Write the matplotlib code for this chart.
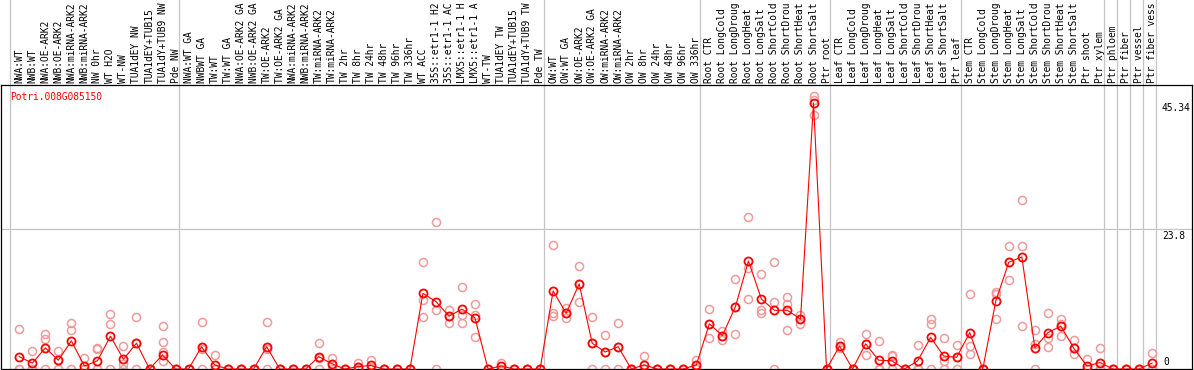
import matplotlib
matplotlib.use("Agg")
import matplotlib.pyplot as plt
import matplotlib.transforms as mtransforms

gene = "Potri.008G085150"

labels = [
    "NWA:WT", "NWB:WT", "NWA:OE-ARK2", "NWB:OE-ARK2", "NWA:miRNA-ARK2",
    "NWB:miRNA-ARK2", "NW 0hr", "WT H2O", "WT-NW", "TUA1dEY NW",
    "TUA1dEY+TUB15", "TUA1dY+TUB9 NW", "Pde NW",
    "NWA:WT GA", "NWBWT GA", "TW:WT", "TW:WT GA", "NWA:OE-ARK2 GA",
    "NWB:OE-ARK2 GA", "TW:OE-ARK2", "TW:OE-ARK2 GA", "NWA:miRNA-ARK2",
    "NWB:miRNA-ARK2", "TW:miRNA-ARK2", "TW:miRNA-ARK2", "TW 2hr", "TW 8hr",
    "TW 24hr", "TW 48hr", "TW 96hr", "TW 336hr", "WT ACC", "35S::etr1-1 H2",
    "35S::etr1-1 AC", "LMX5::etr1-1 H", "LMX5::etr1-1 A", "WT-TW",
    "TUA1dEY TW", "TUA1dEY+TUB15", "TUA1dY+TUB9 TW", "Pde TW",
    "OW:WT", "OW:WT GA", "OW:OE-ARK2", "OW:OE-ARK2 GA", "OW:miRNA-ARK2",
    "OW:miRNA-ARK2", "OW 2hr", "OW 8hr", "OW 24hr", "OW 48hr", "OW 96hr",
    "OW 336hr",
    "Root CTR", "Root LongCold", "Root LongDroug", "Root LongHeat",
    "Root LongSalt", "Root ShortCold", "Root ShortDrou", "Root ShortHeat",
    "Root ShortSalt", "Ptr root",
    "Leaf CTR", "Leaf LongCold", "Leaf LongDroug", "Leaf LongHeat",
    "Leaf LongSalt", "Leaf ShortCold", "Leaf ShortDrou", "Leaf ShortHeat",
    "Leaf ShortSalt", "Ptr leaf",
    "Stem CTR", "Stem LongCold", "Stem LongDroug", "Stem LongHeat",
    "Stem LongSalt", "Stem ShortCold", "Stem ShortDrou", "Stem ShortHeat",
    "Stem ShortSalt", "Ptr shoot", "Ptr xylem",
    "Ptr phloem", "Ptr fiber", "Ptr vessel", "Ptr fiber vess",
]

# last column index of each group (a gray separator follows it)
group_ends = [12, 40, 52, 62, 72, 83, 84, 85, 86, 87]

means = [
    2.1, 1.0, 3.6, 1.5, 4.8, 0.5, 1.4, 5.6, 1.65, 4.4, 0, 2.4, 0,
    0, 3.8, 0.7, 0, 0, 0, 3.8, 0, 0, 0, 2.1, 0.9, 0, 0.4, 0.6, 0, 0, 0,
    12.9, 11.5, 9.0, 10.2, 8.7, 0, 0.5, 0, 0, 0,
    13.3, 9.5, 14.5, 4.4, 2.9, 3.8, 0, 0.7, 0, 0, 0, 0.7,
    7.7, 5.7, 10.6, 18.4, 11.9, 10.0, 10.0, 8.5, 45.34, 0,
    3.9, 0, 4.3, 1.5, 1.4, 0, 1.4, 5.4, 2.2, 2.0,
    6.2, 0, 11.6, 18.2, 19.1, 3.6, 6.2, 7.3, 3.5, 0.5, 1.1,
    0, 0, 0, 1.0,
]

reps = [
    [6.8, 0, 0], [3.1, 0, 0], [6.0, 5.1, 0], [3.1, 1.5, 0], [7.8, 6.6, 0],
    [1.9, 0, 0], [3.5, 3.4, 0], [9.4, 7.7, 0], [4.0, 0.9, 0], [8.8, 4.4, 0],
    [0, 0, 0], [7.3, 4.6, 2.9, 1.4], [0, 0, 0],
    [0, 0, 0], [8.0, 3.4, 0], [2.4, 0, 0], [0, 0, 0], [0, 0, 0], [0, 0, 0],
    [8.0, 3.4, 0], [0, 0, 0], [0, 0, 0], [0, 0, 0], [4.4, 1.9, 0],
    [1.9, 0.9, 0], [0, 0, 0], [1.1, 0.3, 0], [1.5, 0.4, 0], [0, 0, 0],
    [0, 0, 0], [0, 0, 0],
    [18.2, 11.75, 8.9], [25.0, 10.0, 0], [10.0, 9.0, 7.8], [14.0, 9.2, 7.8],
    [11.1, 9.2, 5.5], [0, 0, 0], [1.0, 0.5, 0], [0, 0, 0], [0, 0, 0],
    [0, 0, 0],
    [21.1, 9.5, 9.0], [10.4, 9.5, 8.7], [17.5, 14.5, 11.5], [8.9, 4.4, 0],
    [5.8, 2.9, 0], [7.8, 3.8, 0], [0, 0, 0], [2.3, 0, 0], [0, 0, 0],
    [0, 0, 0], [0, 0, 0], [1.5, 0.6, 0],
    [10.2, 7.7, 5.3], [6.5, 5.7, 4.9], [15.3, 10.6, 5.9], [25.9, 17.2, 12.0],
    [16.2, 10.0, 9.5], [18.2, 11.4, 0], [12.2, 11.1, 6.6], [9.2, 8.5, 7.7],
    [46.6, 45.8, 43.3], [0, 0, 0],
    [4.6, 3.5, 3.9], [0, 0, 0], [5.9, 4.3, 2.35], [4.7, 0, 0], [2.4, 2.2, 0],
    [0, 0, 0], [4.1, 0, 0], [8.5, 7.7, 0], [5.2, 1.4, 0], [4.1, 2.0, 0],
    [12.8, 3.9, 2.5], [0, 0, 0], [13.2, 12.8, 8.5], [21.0, 18.2, 15.2],
    [28.8, 21.0, 7.3], [6.6, 4.2, 0], [9.6, 5.2, 3.8], [8.5, 7.7, 5.7],
    [4.9, 3.5, 2.5], [1.65, 0, 0], [3.5, 0, 0],
    [0, 0, 0], [0, 0, 0], [0, 0, 0], [2.8, 0, 0],
]

y_marks = [45.34, 23.8, 0]
y_top = 48.4

W, H = 1194, 370
FONT = "DejaVu Sans Mono"
GRAY = "#c4c4c4"

fig = plt.figure(figsize=(W / 100, H / 100), dpi=100)
ax = fig.add_axes([1 / W, 1 / H, 1191 / W, 284 / H])
ax.set_xlim((1 - 19.3) / 13.02, (1192 - 19.3) / 13.02)
ax.set_ylim(0, y_top)
ax.set_xticks([])
ax.set_yticks([])
for s in ax.spines.values():
    s.set_color("black")
    s.set_linewidth(0.9)

# separators run through the label header as well
ext = 369 / 284
ax.axvline(-0.7, ymin=0, ymax=ext, color=GRAY, lw=0.9, clip_on=False, zorder=0)
for g in group_ends:
    ax.axvline(g + 0.3, ymin=0, ymax=ext, color=GRAY, lw=0.9, clip_on=False, zorder=0)
ax.axhline(y_marks[1], color=GRAY, lw=0.9, zorder=0)

# replicates
for i, r in enumerate(reps):
    ax.plot([i] * len(r), r, "o", ms=5.8, mfc="none", mec="#ef9a9a", mew=1.1, zorder=2)

ax.plot(range(len(means)), means, "-", color="red", lw=0.8, zorder=3)
ax.plot(range(len(means)), means, "o", ms=5.8, mfc="none", mec="red", mew=1.3, zorder=4)

trans = mtransforms.blended_transform_factory(ax.transData, ax.transAxes)
for i, lbl in enumerate(labels):
    ax.text(i, 1 + 2 / 284, lbl, rotation=90, ha="center", va="bottom",
            transform=trans, fontsize=6.9, family=FONT, clip_on=False)

ax.text(9 / 1191, (369 - 92) / 284, gene, color="red", fontsize=6.9,
        family=FONT, va="top", ha="left", transform=ax.transAxes)

xt = ax.get_yaxis_transform()
ax.text((1162 - 1) / 1191, y_marks[0], "45.34", ha="left", va="top",
        fontsize=6.9, family=FONT, transform=xt)
ax.text((1162 - 1) / 1191, y_marks[1] - 0.2, "23.8", ha="left", va="top",
        fontsize=6.9, family=FONT, transform=xt)
ax.text((1163 - 1) / 1191, y_marks[2] + 0.4, "0", ha="left", va="bottom",
        fontsize=6.9, family=FONT, transform=xt)

fig.savefig("out.png", dpi=100)
